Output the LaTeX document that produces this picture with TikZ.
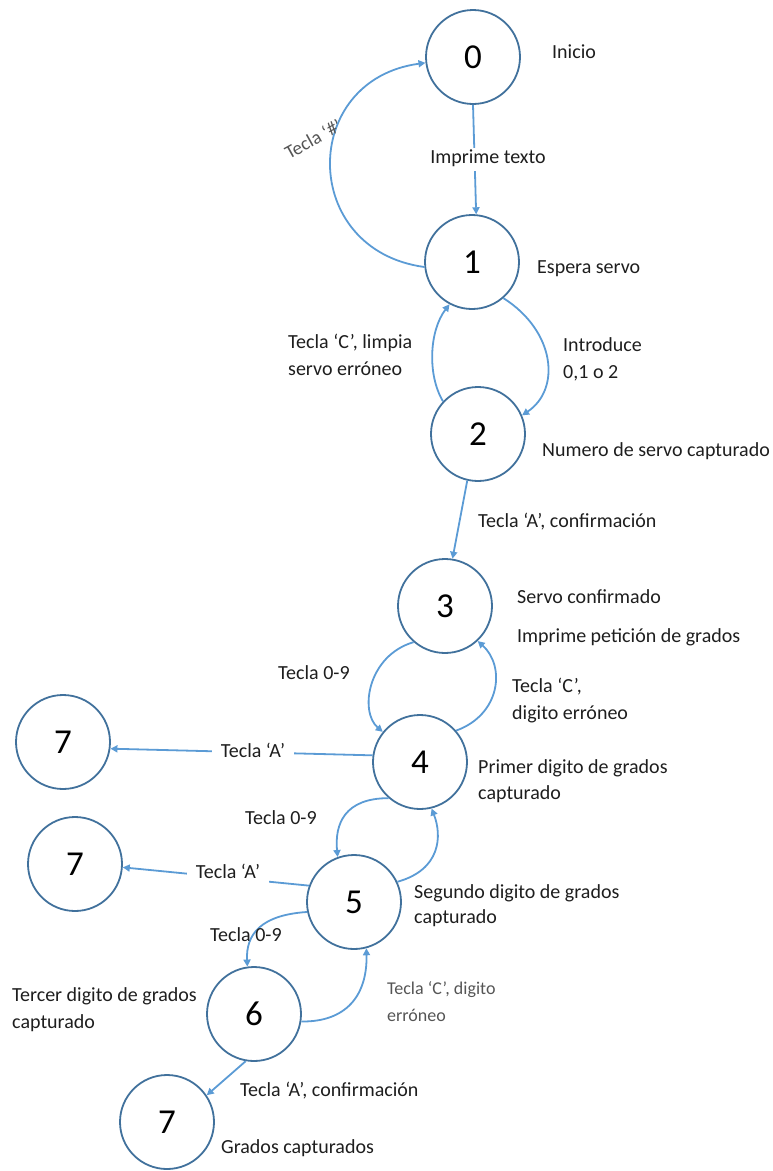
\documentclass[tikz,border=0pt]{standalone}
\usepackage{fontspec}
\setmainfont{Carlito}
\usetikzlibrary{arrows.meta}
\definecolor{circblue}{HTML}{41719C}
\definecolor{lineblue}{HTML}{5B9BD5}
\definecolor{txt}{HTML}{1E1E1E}
\definecolor{txtlight}{HTML}{555555}
\begin{document}
\begin{tikzpicture}[x=1pt,y=-1pt,
  state/.style={circle, draw=circblue, line width=1.8pt, minimum size=94pt, inner sep=0pt, font=\fontsize{35}{40}\selectfont, text=black},
  conn/.style={draw=lineblue, line width=1.8pt, -{Triangle[length=7pt,width=7pt]}},
  lbl/.style={font=\fontsize{20}{24}\selectfont, inner sep=0pt, anchor=base west, text=txt},
  lbllight/.style={font=\fontsize{18}{22}\selectfont, inner sep=0pt, anchor=base west, text=txtlight},
  cutlbl/.style={font=\fontsize{20}{24}\selectfont, text=txt, fill=white, inner xsep=9pt, inner ysep=3pt, text height=13pt, text depth=4pt, anchor=center}
]
\useasboundingbox (0,0) rectangle (773,1171);

% states
\node[state] (n0) at (473,57) {0};
\node[state] (n1) at (472,262) {1};
\node[state] (n2) at (478,434) {2};
\node[state] (n3) at (445,606) {3};
\node[state] (n4) at (420,762) {4};
\node[state] (n5) at (354,902) {5};
\node[state] (n6) at (254,1014) {6};
\node[state] (n7a) at (63,742) {7};
\node[state] (n7b) at (75,864) {7};
\node[state] (n7c) at (167,1122) {7};

% connectors
\draw[conn] (n0.270) -- (n1.85);
\draw[conn] (n1.186) .. controls +(-125,-17) and +(-126,17) .. (n0.187);
\draw[conn] (n1.311) .. controls +(52,33) and +(39,-26) .. (n2.23);
\draw[conn] (n2.137) .. controls +(-16,-27) and +(-20,26) .. (n1.242);
\draw[conn] (n2.257) -- (n3.81);
\draw[conn] (n3.229) .. controls +(-46,13.5) and +(-23.5,-20) .. (n4.141);
\draw[conn] (n4.41) .. controls +(44.5,-16) and +(28,25) .. (n3.313);
\draw[conn] (n4.172) -- (n7a.352);
\draw[conn] (n4.229) .. controls +(-44,0) and +(-3,-33) .. (n5.110);
\draw[conn] (n5.25) .. controls +(43.4,-12) and +(10.6,27.4) .. (n4.284);
\draw[conn] (n5.160) -- (n7b.356);
\draw[conn] (n5.192) .. controls +(-46,3) and +(-1.5,-32.5) .. (n6.98);
\draw[conn] (n6.351) .. controls +(44.6,0.6) and +(1,47.6) .. (n5.285);
\draw[conn] (n6.260) -- (n7c.34);

% labels
\node[lbl] (lInicio) at (552,58) {Inicio};
\node[cutlbl] (lImprime) at (488,159) {Imprime texto};
\node[font=\fontsize{19}{23}\selectfont, text=txtlight, rotate=29, inner sep=0pt] (lHash) at (313,139) {Tecla ‘\#’};
\node[lbl] (lEspera) at (537,273) {Espera servo};
\node[lbl] (lC1a) at (288,348) {Tecla ‘C’, limpia};
\node[lbl] (lC1b) at (288,375) {servo erróneo};
\node[lbl] (lIntro) at (563,351) {Introduce};
\node[lbl] (lIntrob) at (563,378) {0,1 o 2};
\node[lbl] (lNum) at (542,456) {Numero de servo capturado};
\node[lbl] (lA2) at (478,527) {Tecla ‘A’, confirmación};
\node[lbl] (lServo) at (517,603) {Servo confirmado};
\node[lbl] (lPet) at (517,642) {Imprime petición de grados};
\node[lbl] (l09a) at (278,679) {Tecla 0-9};
\node[lbl] (lC4a) at (512,692) {Tecla ‘C’,};
\node[lbl] (lC4b) at (512,719) {digito erróneo};
\node[cutlbl] (lA4) at (253,753) {Tecla ‘A’};
\node[lbl] (lPrim) at (478,773) {Primer digito de grados};
\node[lbl] (lPrimb) at (478,799) {capturado};
\node[lbl] (l09b) at (245,824) {Tecla 0-9};
\node[cutlbl] (lA5) at (228,874) {Tecla ‘A’};
\node[lbl] (lSeg) at (414,898) {Segundo digito de grados};
\node[lbl] (lSegb) at (414,923) {capturado};
\node[lbl] (l09c) at (210,941) {Tecla 0-9};
\node[lbllight] (lC6a) at (387,994) {Tecla ‘C’, digito};
\node[lbllight] (lC6b) at (387,1021) {erróneo};
\node[lbl] (lTer) at (12,1001) {Tercer digito de grados};
\node[lbl] (lTerb) at (12,1028) {capturado};
\node[lbl] (lA6) at (240,1096) {Tecla ‘A’, confirmación};
\node[lbl] (lGrad) at (221,1153) {Grados capturados};
\end{tikzpicture}
\end{document}
